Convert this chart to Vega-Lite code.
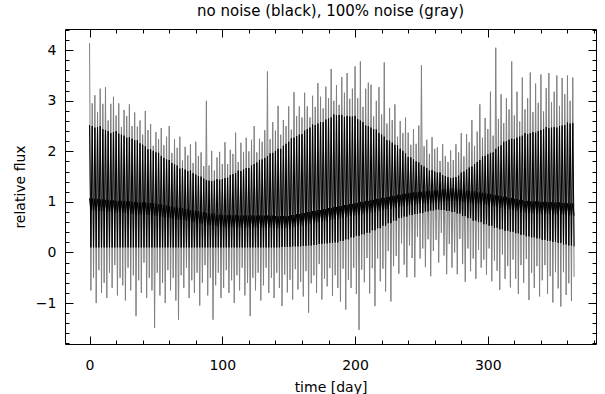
{
"$schema":"https://vega.github.io/schema/vega-lite/v6.json",
"width":531,"height":315,
"autosize":"none",
"padding":{"left":65,"top":29,"right":9,"bottom":50},
"background":"white",
"title":{"text":"no noise (black), 100% noise (gray)","offset":4,"anchor":"middle","fontSize":15},
"data":{"values":[
{"t":0,"b":2.52,"c":1.07,"g":4.14},{"t":1,"b":0.1,"c":0.83,"g":-0.75},{"t":2,"b":2.5,"c":1.07,"g":2.95},{"t":3,"b":0.1,"c":0.83,"g":-0.5},
{"t":4,"b":2.47,"c":1.06,"g":3.11},{"t":5,"b":0.1,"c":0.82,"g":-1.0},{"t":6,"b":2.48,"c":1.06,"g":2.78},{"t":7,"b":0.1,"c":0.82,"g":-0.35},
{"t":8,"b":2.5,"c":1.05,"g":3.24},{"t":9,"b":0.1,"c":0.81,"g":-0.8},{"t":10,"b":2.44,"c":1.05,"g":2.94},{"t":11,"b":0.1,"c":0.81,"g":-0.6},
{"t":12,"b":2.42,"c":1.04,"g":3.27},{"t":13,"b":0.1,"c":0.8,"g":-0.9},{"t":14,"b":2.4,"c":1.04,"g":2.61},{"t":15,"b":0.1,"c":0.8,"g":-0.4},
{"t":16,"b":2.36,"c":1.03,"g":2.94},{"t":17,"b":0.1,"c":0.79,"g":-0.7},{"t":18,"b":2.38,"c":1.03,"g":3.08},{"t":19,"b":0.1,"c":0.79,"g":-0.25},
{"t":20,"b":2.4,"c":1.02,"g":2.71},{"t":21,"b":0.1,"c":0.79,"g":-0.85},{"t":22,"b":2.35,"c":1.02,"g":2.95},{"t":23,"b":0.1,"c":0.79,"g":-0.5},
{"t":24,"b":2.33,"c":1.02,"g":2.48},{"t":25,"b":0.1,"c":0.78,"g":-0.65},{"t":26,"b":2.31,"c":1.02,"g":2.82},{"t":27,"b":0.1,"c":0.78,"g":-0.95},
{"t":28,"b":2.27,"c":1.01,"g":2.7},{"t":29,"b":0.1,"c":0.77,"g":-0.3},{"t":30,"b":2.28,"c":1.01,"g":2.93},{"t":31,"b":0.1,"c":0.77,"g":-0.75},
{"t":32,"b":2.25,"c":1.0,"g":2.5},{"t":33,"b":0.1,"c":0.76,"g":-0.45},{"t":34,"b":2.22,"c":1.0,"g":2.77},{"t":35,"b":0.1,"c":0.76,"g":-1.26},
{"t":36,"b":2.22,"c":0.99,"g":2.49},{"t":37,"b":0.1,"c":0.75,"g":-0.55},{"t":38,"b":2.16,"c":0.99,"g":2.61},{"t":39,"b":0.1,"c":0.75,"g":-0.8},
{"t":40,"b":2.13,"c":0.99,"g":2.33},{"t":41,"b":0.1,"c":0.75,"g":-0.2},{"t":42,"b":2.1,"c":0.99,"g":2.8},{"t":43,"b":0.1,"c":0.75,"g":-0.9},
{"t":44,"b":2.04,"c":0.98,"g":2.42},{"t":45,"b":0.1,"c":0.74,"g":-0.5},{"t":46,"b":2.04,"c":0.98,"g":2.54},{"t":47,"b":0.1,"c":0.74,"g":-0.75},
{"t":48,"b":2.01,"c":0.97,"g":2.11},{"t":49,"b":0.1,"c":0.73,"g":-1.49},{"t":50,"b":1.98,"c":0.97,"g":2.38},{"t":51,"b":0.1,"c":0.73,"g":-0.4},
{"t":52,"b":1.97,"c":0.95,"g":2.24},{"t":53,"b":0.1,"c":0.71,"g":-0.85},{"t":54,"b":1.91,"c":0.95,"g":2.46},{"t":55,"b":0.1,"c":0.71,"g":-0.6},
{"t":56,"b":1.87,"c":0.93,"g":2.12},{"t":57,"b":0.1,"c":0.69,"g":-1.0},{"t":58,"b":1.84,"c":0.93,"g":2.29},{"t":59,"b":0.1,"c":0.69,"g":-0.35},
{"t":60,"b":1.83,"c":0.91,"g":2.5},{"t":61,"b":0.1,"c":0.67,"g":-0.75},{"t":62,"b":1.77,"c":0.91,"g":1.97},{"t":63,"b":0.1,"c":0.67,"g":-0.5},
{"t":64,"b":1.74,"c":0.89,"g":2.24},{"t":65,"b":0.1,"c":0.65,"g":-0.95},{"t":66,"b":1.72,"c":0.89,"g":2.07},{"t":67,"b":0.1,"c":0.65,"g":-1.33},
{"t":68,"b":1.66,"c":0.88,"g":2.29},{"t":69,"b":0.1,"c":0.64,"g":-0.45},{"t":70,"b":1.67,"c":0.88,"g":1.82},{"t":71,"b":0.1,"c":0.64,"g":-0.7},
{"t":72,"b":1.64,"c":0.86,"g":2.09},{"t":73,"b":0.1,"c":0.62,"g":-0.3},{"t":74,"b":1.61,"c":0.86,"g":1.92},{"t":75,"b":0.1,"c":0.62,"g":-0.9},
{"t":76,"b":1.62,"c":0.84,"g":2.14},{"t":77,"b":0.1,"c":0.6,"g":-0.55},{"t":78,"b":1.57,"c":0.84,"g":1.77},{"t":79,"b":0.1,"c":0.6,"g":-0.8},
{"t":80,"b":1.54,"c":0.82,"g":2.19},{"t":81,"b":0.1,"c":0.58,"g":-0.4},{"t":82,"b":1.51,"c":0.82,"g":1.91},{"t":83,"b":0.1,"c":0.58,"g":-1.05},
{"t":84,"b":1.5,"c":0.8,"g":1.98},{"t":85,"b":0.1,"c":0.56,"g":-0.6},{"t":86,"b":1.46,"c":0.8,"g":1.71},{"t":87,"b":0.1,"c":0.56,"g":-0.25},
{"t":88,"b":1.43,"c":0.78,"g":3.0},{"t":89,"b":0.1,"c":0.54,"g":-0.85},{"t":90,"b":1.42,"c":0.78,"g":1.72},{"t":91,"b":0.1,"c":0.54,"g":-0.5},
{"t":92,"b":1.41,"c":0.77,"g":2.01},{"t":93,"b":0.1,"c":0.53,"g":-1.33},{"t":94,"b":1.42,"c":0.77,"g":1.62},{"t":95,"b":0.1,"c":0.53,"g":-0.65},
{"t":96,"b":1.45,"c":0.75,"g":1.88},{"t":97,"b":0.1,"c":0.51,"g":-0.4},{"t":98,"b":1.44,"c":0.75,"g":1.99},{"t":99,"b":0.1,"c":0.51,"g":-0.9},
{"t":100,"b":1.45,"c":0.74,"g":1.75},{"t":101,"b":0.1,"c":0.5,"g":-0.7},{"t":102,"b":1.47,"c":0.74,"g":2.18},{"t":103,"b":0.1,"c":0.5,"g":-0.35},
{"t":104,"b":1.48,"c":0.74,"g":1.75},{"t":105,"b":0.1,"c":0.5,"g":-0.8},{"t":106,"b":1.53,"c":0.74,"g":2.03},{"t":107,"b":0.1,"c":0.5,"g":-0.55},
{"t":108,"b":1.55,"c":0.74,"g":1.95},{"t":109,"b":0.1,"c":0.5,"g":-1.0},{"t":110,"b":1.57,"c":0.74,"g":2.37},{"t":111,"b":0.1,"c":0.5,"g":-0.45},
{"t":112,"b":1.62,"c":0.73,"g":1.79},{"t":113,"b":0.1,"c":0.49,"g":-0.75},{"t":114,"b":1.61,"c":0.73,"g":2.17},{"t":115,"b":0.1,"c":0.49,"g":-0.3},
{"t":116,"b":1.64,"c":0.73,"g":1.99},{"t":117,"b":0.1,"c":0.49,"g":-0.85},{"t":118,"b":1.67,"c":0.73,"g":2.27},{"t":119,"b":0.1,"c":0.49,"g":-0.6},
{"t":120,"b":1.67,"c":0.73,"g":2.0},{"t":121,"b":0.1,"c":0.49,"g":-1.26},{"t":122,"b":1.72,"c":0.73,"g":2.23},{"t":123,"b":0.1,"c":0.49,"g":-0.5},
{"t":124,"b":1.75,"c":0.73,"g":2.5},{"t":125,"b":0.1,"c":0.49,"g":-0.75},{"t":126,"b":1.78,"c":0.73,"g":1.98},{"t":127,"b":0.1,"c":0.49,"g":-0.4},
{"t":128,"b":1.83,"c":0.73,"g":2.25},{"t":129,"b":0.1,"c":0.49,"g":-0.95},{"t":130,"b":1.84,"c":0.73,"g":2.19},{"t":131,"b":0.1,"c":0.49,"g":-0.65},
{"t":132,"b":1.87,"c":0.73,"g":2.42},{"t":133,"b":0.1,"c":0.49,"g":-0.3},{"t":134,"b":1.9,"c":0.73,"g":3.58},{"t":135,"b":0.1,"c":0.49,"g":-0.8},
{"t":136,"b":1.96,"c":0.73,"g":2.24},{"t":137,"b":0.1,"c":0.49,"g":-0.5},{"t":138,"b":1.97,"c":0.73,"g":2.58},{"t":139,"b":0.1,"c":0.49,"g":-0.9},
{"t":140,"b":2.01,"c":0.72,"g":2.41},{"t":141,"b":0.1,"c":0.48,"g":-0.4},{"t":142,"b":2.05,"c":0.72,"g":2.9},{"t":143,"b":0.1,"c":0.48,"g":-0.7},
{"t":144,"b":2.05,"c":0.72,"g":2.33},{"t":145,"b":0.11,"c":0.48,"g":-1.06},{"t":146,"b":2.11,"c":0.72,"g":2.62},{"t":147,"b":0.11,"c":0.48,"g":-0.44},
{"t":148,"b":2.15,"c":0.72,"g":2.5},{"t":149,"b":0.11,"c":0.48,"g":-0.79},{"t":150,"b":2.19,"c":0.72,"g":2.89},{"t":151,"b":0.11,"c":0.48,"g":-0.54},
{"t":152,"b":2.26,"c":0.74,"g":2.43},{"t":153,"b":0.12,"c":0.5,"g":-0.93},{"t":154,"b":2.27,"c":0.74,"g":3.17},{"t":155,"b":0.12,"c":0.5,"g":-0.33},
{"t":156,"b":2.3,"c":0.76,"g":2.7},{"t":157,"b":0.12,"c":0.52,"g":-0.73},{"t":158,"b":2.33,"c":0.76,"g":2.89},{"t":159,"b":0.12,"c":0.52,"g":-0.58},
{"t":160,"b":2.34,"c":0.78,"g":2.67},{"t":161,"b":0.13,"c":0.54,"g":-0.87},{"t":162,"b":2.41,"c":0.78,"g":3.16},{"t":163,"b":0.13,"c":0.54,"g":-0.37},
{"t":164,"b":2.44,"c":0.8,"g":2.89},{"t":165,"b":0.14,"c":0.56,"g":-1.19},{"t":166,"b":2.47,"c":0.8,"g":2.67},{"t":167,"b":0.14,"c":0.56,"g":-0.61},
{"t":168,"b":2.53,"c":0.82,"g":3.1},{"t":169,"b":0.15,"c":0.58,"g":-0.45},{"t":170,"b":2.52,"c":0.82,"g":2.88},{"t":171,"b":0.15,"c":0.58,"g":-0.8},
{"t":172,"b":2.55,"c":0.84,"g":3.35},{"t":173,"b":0.17,"c":0.6,"g":-0.23},{"t":174,"b":2.58,"c":0.84,"g":3.08},{"t":175,"b":0.17,"c":0.6,"g":-0.93},
{"t":176,"b":2.58,"c":0.86,"g":2.85},{"t":177,"b":0.18,"c":0.62,"g":-0.52},{"t":178,"b":2.63,"c":0.86,"g":3.28},{"t":179,"b":0.18,"c":0.62,"g":-0.67},
{"t":180,"b":2.65,"c":0.88,"g":3.05},{"t":181,"b":0.19,"c":0.64,"g":-0.31},{"t":182,"b":2.67,"c":0.88,"g":3.63},{"t":183,"b":0.19,"c":0.64,"g":-0.86},
{"t":184,"b":2.73,"c":0.9,"g":3.0},{"t":185,"b":0.2,"c":0.66,"g":-0.45},{"t":186,"b":2.71,"c":0.9,"g":3.31},{"t":187,"b":0.2,"c":0.66,"g":-0.7},
{"t":188,"b":2.72,"c":0.92,"g":2.92},{"t":189,"b":0.23,"c":0.68,"g":-0.97},{"t":190,"b":2.72,"c":0.92,"g":3.47},{"t":191,"b":0.23,"c":0.68,"g":-0.32},
{"t":192,"b":2.68,"c":0.94,"g":3.16},{"t":193,"b":0.26,"c":0.7,"g":-1.13},{"t":194,"b":2.7,"c":0.94,"g":3.55},{"t":195,"b":0.26,"c":0.7,"g":-0.54},
{"t":196,"b":2.69,"c":0.96,"g":3.04},{"t":197,"b":0.3,"c":0.72,"g":-0.7},{"t":198,"b":2.69,"c":0.96,"g":3.24},{"t":199,"b":0.3,"c":0.72,"g":-0.3},
{"t":200,"b":2.7,"c":0.98,"g":3.68},{"t":201,"b":0.33,"c":0.74,"g":-0.82},{"t":202,"b":2.64,"c":0.98,"g":3.05},{"t":203,"b":0.33,"c":0.74,"g":-1.53},
{"t":204,"b":2.61,"c":1.0,"g":3.78},{"t":205,"b":0.36,"c":0.76,"g":-0.34},{"t":206,"b":2.58,"c":1.0,"g":2.88},{"t":207,"b":0.36,"c":0.76,"g":-0.59},
{"t":208,"b":2.51,"c":1.02,"g":3.24},{"t":209,"b":0.39,"c":0.78,"g":-0.11},{"t":210,"b":2.5,"c":1.02,"g":3.36},{"t":211,"b":0.39,"c":0.78,"g":-0.81},
{"t":212,"b":2.47,"c":1.04,"g":3.32},{"t":213,"b":0.44,"c":0.8,"g":-0.31},{"t":214,"b":2.44,"c":1.04,"g":2.69},{"t":215,"b":0.44,"c":0.8,"g":-1.06},
{"t":216,"b":2.43,"c":1.06,"g":3.0},{"t":217,"b":0.48,"c":0.82,"g":-0.12},{"t":218,"b":2.36,"c":1.06,"g":3.27},{"t":219,"b":0.48,"c":0.82,"g":-0.57},
{"t":220,"b":2.33,"c":1.08,"g":2.73},{"t":221,"b":0.53,"c":0.84,"g":-0.32},{"t":222,"b":2.29,"c":1.08,"g":3.76},{"t":223,"b":0.53,"c":0.84,"g":-0.77},
{"t":224,"b":2.22,"c":1.1,"g":2.55},{"t":225,"b":0.58,"c":0.86,"g":0.03},{"t":226,"b":2.21,"c":1.1,"g":2.86},{"t":227,"b":0.58,"c":0.86,"g":-0.97},
{"t":228,"b":2.17,"c":1.12,"g":2.62},{"t":229,"b":0.63,"c":0.88,"g":-0.27},{"t":230,"b":2.13,"c":1.12,"g":2.93},{"t":231,"b":0.63,"c":0.88,"g":-0.07},
{"t":232,"b":2.12,"c":1.14,"g":2.29},{"t":233,"b":0.68,"c":0.9,"g":-0.42},{"t":234,"b":2.05,"c":1.14,"g":2.6},{"t":235,"b":0.68,"c":0.9,"g":0.18},
{"t":236,"b":2.01,"c":1.16,"g":2.36},{"t":237,"b":0.71,"c":0.92,"g":-0.24},{"t":238,"b":1.96,"c":1.16,"g":2.67},{"t":239,"b":0.71,"c":0.92,"g":-0.49},
{"t":240,"b":1.89,"c":1.18,"g":2.37},{"t":241,"b":0.74,"c":0.94,"g":0.14},{"t":242,"b":1.88,"c":1.18,"g":2.13},{"t":243,"b":0.74,"c":0.94,"g":-0.11},
{"t":244,"b":1.84,"c":1.19,"g":2.44},{"t":245,"b":0.76,"c":0.95,"g":-0.49},{"t":246,"b":1.8,"c":1.19,"g":2.15},{"t":247,"b":0.76,"c":0.95,"g":0.31},
{"t":248,"b":1.78,"c":1.2,"g":2.51},{"t":249,"b":0.78,"c":0.96,"g":-0.12},{"t":250,"b":1.73,"c":1.2,"g":3.7},{"t":251,"b":0.78,"c":0.96,"g":0.08},
{"t":252,"b":1.7,"c":1.21,"g":2.1},{"t":253,"b":0.81,"c":0.97,"g":-0.29},{"t":254,"b":1.67,"c":1.21,"g":2.23},{"t":255,"b":0.81,"c":0.97,"g":0.26},
{"t":256,"b":1.62,"c":1.22,"g":1.95},{"t":257,"b":0.83,"c":0.98,"g":-0.47},{"t":258,"b":1.63,"c":1.22,"g":2.28},{"t":259,"b":0.83,"c":0.98,"g":0.03},
{"t":260,"b":1.6,"c":1.23,"g":2.05},{"t":261,"b":0.85,"c":0.99,"g":0.25},{"t":262,"b":1.58,"c":1.23,"g":2.08},{"t":263,"b":0.85,"c":0.99,"g":-0.2},
{"t":264,"b":1.58,"c":1.25,"g":1.81},{"t":265,"b":0.84,"c":1.01,"g":0.39},{"t":266,"b":1.53,"c":1.25,"g":2.14},{"t":267,"b":0.84,"c":1.01,"g":-0.06},
{"t":268,"b":1.51,"c":1.26,"g":1.91},{"t":269,"b":0.82,"c":1.02,"g":-0.43},{"t":270,"b":1.49,"c":1.26,"g":1.79},{"t":271,"b":0.82,"c":1.02,"g":0.17},
{"t":272,"b":1.47,"c":1.27,"g":2.02},{"t":273,"b":0.8,"c":1.03,"g":-0.3},{"t":274,"b":1.48,"c":1.27,"g":1.83},{"t":275,"b":0.8,"c":1.03,"g":0.0},
{"t":276,"b":1.49,"c":1.25,"g":2.14},{"t":277,"b":0.77,"c":1.01,"g":-0.43},{"t":278,"b":1.52,"c":1.25,"g":1.98},{"t":279,"b":0.77,"c":1.01,"g":0.27},
{"t":280,"b":1.58,"c":1.24,"g":2.36},{"t":281,"b":0.72,"c":1.0,"g":-0.23},{"t":282,"b":1.6,"c":1.24,"g":1.9},{"t":283,"b":0.72,"c":1.0,"g":-0.58},
{"t":284,"b":1.64,"c":1.22,"g":2.34},{"t":285,"b":0.68,"c":0.98,"g":0.08},{"t":286,"b":1.68,"c":1.22,"g":2.18},{"t":287,"b":0.68,"c":0.98,"g":-0.37},
{"t":288,"b":1.7,"c":1.21,"g":2.62},{"t":289,"b":0.63,"c":0.97,"g":-0.12},{"t":290,"b":1.75,"c":1.21,"g":2.11},{"t":291,"b":0.63,"c":0.97,"g":-0.52},
{"t":292,"b":1.79,"c":1.19,"g":2.39},{"t":293,"b":0.6,"c":0.95,"g":0.05},{"t":294,"b":1.83,"c":1.19,"g":2.93},{"t":295,"b":0.6,"c":0.95,"g":-0.3},
{"t":296,"b":1.9,"c":1.18,"g":2.27},{"t":297,"b":0.56,"c":0.94,"g":-0.14},{"t":298,"b":1.91,"c":1.18,"g":2.66},{"t":299,"b":0.56,"c":0.94,"g":-0.44},
{"t":300,"b":1.94,"c":1.16,"g":2.44},{"t":301,"b":0.53,"c":0.92,"g":0.08},{"t":302,"b":1.97,"c":1.16,"g":3.18},{"t":303,"b":0.53,"c":0.92,"g":-0.57},
{"t":304,"b":1.98,"c":1.14,"g":2.31},{"t":305,"b":0.49,"c":0.9,"g":-0.16},{"t":306,"b":2.05,"c":1.14,"g":4.05},{"t":307,"b":0.49,"c":0.9,"g":-0.36},
{"t":308,"b":2.09,"c":1.12,"g":2.64},{"t":309,"b":0.46,"c":0.88,"g":-0.74},{"t":310,"b":2.12,"c":1.12,"g":3.13},{"t":311,"b":0.46,"c":0.88,"g":-0.04},
{"t":312,"b":2.19,"c":1.1,"g":2.56},{"t":313,"b":0.43,"c":0.86,"g":-0.52},{"t":314,"b":2.2,"c":1.1,"g":3.05},{"t":315,"b":0.43,"c":0.86,"g":-0.27},
{"t":316,"b":2.23,"c":1.08,"g":2.83},{"t":317,"b":0.41,"c":0.84,"g":-0.69},{"t":318,"b":2.25,"c":1.08,"g":3.78},{"t":319,"b":0.41,"c":0.84,"g":-0.14},
{"t":320,"b":2.24,"c":1.06,"g":2.71},{"t":321,"b":0.38,"c":0.82,"g":-0.52},{"t":322,"b":2.27,"c":1.06,"g":3.18},{"t":323,"b":0.38,"c":0.82,"g":-0.82},
{"t":324,"b":2.29,"c":1.04,"g":2.59},{"t":325,"b":0.35,"c":0.8,"g":-0.25},{"t":326,"b":2.31,"c":1.04,"g":3.46},{"t":327,"b":0.35,"c":0.8,"g":-0.6},
{"t":328,"b":2.36,"c":1.02,"g":2.83},{"t":329,"b":0.32,"c":0.78,"g":-0.13},{"t":330,"b":2.34,"c":1.02,"g":3.05},{"t":331,"b":0.32,"c":0.78,"g":-0.94},
{"t":332,"b":2.36,"c":1.01,"g":3.56},{"t":333,"b":0.3,"c":0.77,"g":-0.4},{"t":334,"b":2.38,"c":1.01,"g":2.78},{"t":335,"b":0.3,"c":0.77,"g":-0.7},
{"t":336,"b":2.37,"c":1.01,"g":3.34},{"t":337,"b":0.28,"c":0.77,"g":-0.27},{"t":338,"b":2.4,"c":1.01,"g":2.96},{"t":339,"b":0.28,"c":0.77,"g":-0.87},
{"t":340,"b":2.42,"c":1.0,"g":3.52},{"t":341,"b":0.25,"c":0.76,"g":-0.55},{"t":342,"b":2.44,"c":1.0,"g":2.79},{"t":343,"b":0.25,"c":0.76,"g":-0.25},
{"t":344,"b":2.48,"c":1.0,"g":3.25},{"t":345,"b":0.23,"c":0.76,"g":-0.82},{"t":346,"b":2.46,"c":1.0,"g":3.55},{"t":347,"b":0.23,"c":0.76,"g":-0.47},
{"t":348,"b":2.47,"c":0.99,"g":2.97},{"t":349,"b":0.21,"c":0.75,"g":-0.99},{"t":350,"b":2.48,"c":0.99,"g":3.18},{"t":351,"b":0.21,"c":0.75,"g":-0.39},
{"t":352,"b":2.47,"c":0.99,"g":3.5},{"t":353,"b":0.19,"c":0.75,"g":-0.71},{"t":354,"b":2.5,"c":0.99,"g":2.9},{"t":355,"b":0.19,"c":0.75,"g":-1.07},
{"t":356,"b":2.51,"c":0.98,"g":3.45},{"t":357,"b":0.16,"c":0.74,"g":-0.39},{"t":358,"b":2.52,"c":0.98,"g":3.13},{"t":359,"b":0.16,"c":0.74,"g":-0.84},
{"t":360,"b":2.57,"c":0.97,"g":3.5},{"t":361,"b":0.14,"c":0.73,"g":-0.61},{"t":362,"b":2.55,"c":0.97,"g":3.0},{"t":363,"b":0.14,"c":0.73,"g":-0.96},
{"t":364,"b":2.56,"c":0.97,"g":3.46},{"t":365,"b":0.12,"c":0.73,"g":-0.48}
]},
"layer":[
{"mark":{"type":"line","color":"#808080","strokeWidth":1},
 "encoding":{
  "x":{"field":"t","type":"quantitative","scale":{"domain":[-18.5,381.5],"nice":false,"zero":false},
       "axis":{"orient":"bottom","values":[0,20,40,60,80,100,120,140,160,180,200,220,240,260,280,300,320,340,360,380],
               "tickSize":{"condition":{"test":"datum.value % 100 === 0","value":-8},"value":-4},
               "labelExpr":"datum.value % 100 === 0 ? format(datum.value,'d') : ''",
               "labelPadding":22,"title":"time [day]","titlePadding":4}},
  "y":{"field":"g","type":"quantitative","scale":{"domain":[-1.81,4.42],"nice":false,"zero":false},
       "axis":{"orient":"left","values":[-1.8,-1.6,-1.4,-1.2,-1,-0.8,-0.6,-0.4,-0.2,0,0.2,0.4,0.6,0.8,1,1.2,1.4,1.6,1.8,2,2.2,2.4,2.6,2.8,3,3.2,3.4,3.6,3.8,4,4.2,4.4],
               "tickSize":{"condition":{"test":"datum.value === round(datum.value)","value":-8},"value":-4},
               "labelExpr":"datum.value === round(datum.value) ? format(datum.value,'d') : ''",
               "labelPadding":17,"title":"relative flux","titlePadding":8}}
 }},
{"mark":{"type":"line","color":"#000000","strokeWidth":1},
 "encoding":{
  "x":{"field":"t","type":"quantitative",
       "axis":{"orient":"top","values":[0,20,40,60,80,100,120,140,160,180,200,220,240,260,280,300,320,340,360,380],
               "tickSize":{"condition":{"test":"datum.value % 100 === 0","value":-8},"value":-4},
               "labels":false,"title":null}},
  "y":{"field":"b","type":"quantitative",
       "axis":{"orient":"right","values":[-1.8,-1.6,-1.4,-1.2,-1,-0.8,-0.6,-0.4,-0.2,0,0.2,0.4,0.6,0.8,1,1.2,1.4,1.6,1.8,2,2.2,2.4,2.6,2.8,3,3.2,3.4,3.6,3.8,4,4.2,4.4],
               "tickSize":{"condition":{"test":"datum.value === round(datum.value)","value":-8},"value":-4},
               "labels":false,"title":null}}
 }},
{"mark":{"type":"line","color":"#000000","strokeWidth":1},
 "encoding":{
  "x":{"field":"t","type":"quantitative","axis":null},
  "y":{"field":"c","type":"quantitative","axis":null}
 }}
],
"resolve":{"axis":{"x":"independent","y":"independent"}},
"config":{
 "view":{"stroke":"black","strokeWidth":1},
 "font":"DejaVu Sans",
 "axis":{"domain":false,"grid":false,"tickColor":"black","tickWidth":1,"labelColor":"black","labelFontSize":14,"labelFont":"DejaVu Sans","titleFont":"DejaVu Sans","titleFontSize":14,"titleFontWeight":"normal","titleColor":"black","labelFlush":false,"labelOverlap":false},
 "title":{"font":"DejaVu Sans","fontSize":15,"fontWeight":"normal","color":"black"}
}
}
